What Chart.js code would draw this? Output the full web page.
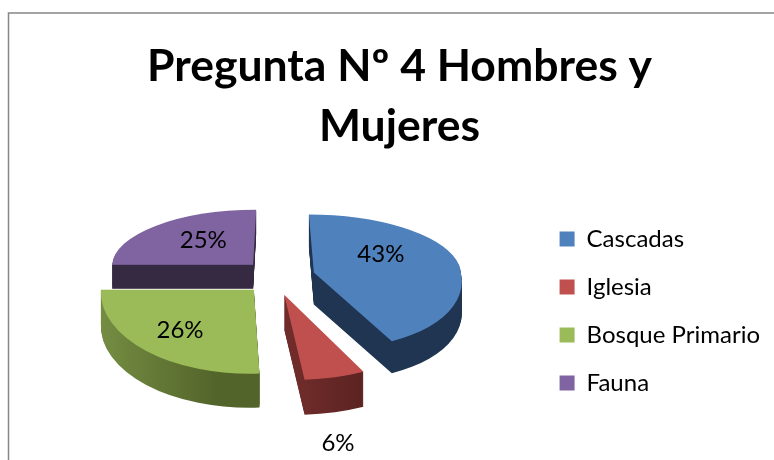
<!DOCTYPE html>
<html>
<head>
<meta charset="utf-8">
<style>
html, body { margin: 0; padding: 0; background: #fff; overflow: hidden; }
#wrap { width: 774px; height: 460px; position: relative; }
</style>
<script src="https://cdn.jsdelivr.net/npm/chart.js@4"></script>
</head>
<body>
<div id="wrap"><canvas id="myChart" width="774" height="460"></canvas></div>
<script>
// Data
var categories = ['Cascadas', 'Iglesia', 'Bosque Primario', 'Fauna'];
var percentages = [43, 6, 26, 25];
var titleLines = ['Pregunta Nº 4 Hombres y', 'Mujeres'];

var topColors = ['#4f81bd', '#c0504d', '#9bbb59', '#8064a2'];
var wallLeft = ['#1f3552', '#702c2b', '#8fae56', '#352a42'];
var wallRight = ['#1f3552', '#4e1d1b', '#53642a', '#352a42'];

// The fake 3D look: each slice has its own explode, width, depth and lean
var pieShift = { x: -6.5, y: -31 };
var explode = [39, 34, 32, 32];
var radiusX = [147, 165, 153, 141];
var backRadiusY = [58, 57, 57, 55];
var frontRadiusY = [76, 85, 84, 55];
var depth = [32, 35, 34, 24];
var leanBack = [5, 0, 0, -3];
var leanFront = [17, 10, -4, 0];
var tilt = 0.54;
var drawOrder = [3, 0, 2, 1];
var labelRatioX = [0.467, 1.31, 0.705, 0.5];
var labelRatioY = [1.45, 1.8, 0.67, 0.62];

function slicePos(arc, i) {
    var mid = (arc.startAngle + arc.endAngle) / 2;
    return {
        x: arc.x + pieShift.x + Math.cos(mid) * explode[i],
        y: arc.y + pieShift.y + Math.sin(mid) * explode[i] * tilt,
        mid: mid
    };
}

// Draws the library's arc twice, back half and front half of the ellipse
function drawSquashed(ctx, arc, i, pos, dy, fill) {
    var oldOptions = arc.options;
    arc.options = Object.assign({}, oldOptions, { backgroundColor: fill });
    var R = arc.outerRadius;
    var a = radiusX[i] / R;
    [[backRadiusY[i], leanBack[i], -1000, 1000.5], [frontRadiusY[i], leanFront[i], 0, 1000]].forEach(function(part) {
        var d = part[0] / R;
        var c = part[1] / R;
        var py = pos.y + dy;
        ctx.save();
        ctx.beginPath();
        ctx.rect(0, py + part[2], 774, part[3]);
        ctx.clip();
        ctx.transform(a, 0, c, d, pos.x - a * arc.x - c * arc.y, py - d * arc.y);
        arc.draw(ctx);
        ctx.restore();
    });
    arc.options = oldOptions;
}

var pie3d = {
    id: 'pie3d',
    beforeDatasetsDraw: function(chart) {
        var ctx = chart.ctx;
        var arcs = chart.getDatasetMeta(0).data;
        drawOrder.forEach(function(i) {
            var arc = arcs[i];
            var pos = slicePos(arc, i);
            var grad = ctx.createLinearGradient(pos.x - radiusX[i], 0, pos.x + radiusX[i], 0);
            if (i === 1) {
                grad = ctx.createLinearGradient(pos.x, 0, pos.x + 76, 0);
            } else if (i === 2) {
                grad = ctx.createLinearGradient(pos.x - radiusX[i], 0, pos.x + 5, 0);
            }
            grad.addColorStop(0, wallLeft[i]);
            grad.addColorStop(1, wallRight[i]);
            for (var dy = depth[i]; dy > 0; dy--) {
                drawSquashed(ctx, arc, i, pos, dy, grad);
            }
            drawSquashed(ctx, arc, i, pos, 0, topColors[i]);
        });
        // Percent labels
        ctx.save();
        ctx.fillStyle = '#000';
        ctx.font = '24px Lato';
        ctx.textAlign = 'center';
        ctx.textBaseline = 'middle';
        arcs.forEach(function(arc, i) {
            var pos = slicePos(arc, i);
            var sn = Math.sin(pos.mid);
            var ry = sn < 0 ? backRadiusY[i] : frontRadiusY[i];
            var x = pos.x + Math.cos(pos.mid) * radiusX[i] * labelRatioX[i];
            var y = pos.y + sn * ry * labelRatioY[i];
            ctx.fillText(percentages[i] + '%', x, y);
        });
        ctx.restore();
        return false;
    },
    beforeDraw: function(chart) {
        // Chart frame, only the left and top edges fall inside the crop
        var ctx = chart.ctx;
        ctx.save();
        ctx.strokeStyle = '#868686';
        ctx.lineWidth = 1.5;
        ctx.beginPath();
        ctx.moveTo(8.5, 460);
        ctx.lineTo(8.5, 13);
        ctx.lineTo(774, 13);
        ctx.stroke();
        ctx.restore();
    }
};

var ctx = document.getElementById('myChart').getContext('2d');
var chart = new Chart(ctx, {
    type: 'pie',
    data: {
        labels: categories,
        datasets: [{
            data: percentages,
            backgroundColor: topColors,
            borderWidth: 0
        }]
    },
    plugins: [pie3d],
    options: {
        responsive: false,
        animation: false,
        layout: { padding: { left: 29, top: 0, right: 4, bottom: 41 } },
        plugins: {
            tooltip: { enabled: false },
            title: {
                display: true,
                text: titleLines,
                color: '#000',
                font: { family: 'Lato', size: 44.5, weight: 'bold', lineHeight: 1.35 },
                padding: { top: 37, bottom: 40 }
            },
            legend: {
                position: 'right',
                align: 'end',
                labels: {
                    color: '#000',
                    font: { family: 'Lato', size: 24 },
                    boxWidth: 15,
                    boxHeight: 15,
                    padding: 24
                }
            }
        }
    }
});
</script>
</body>
</html>
